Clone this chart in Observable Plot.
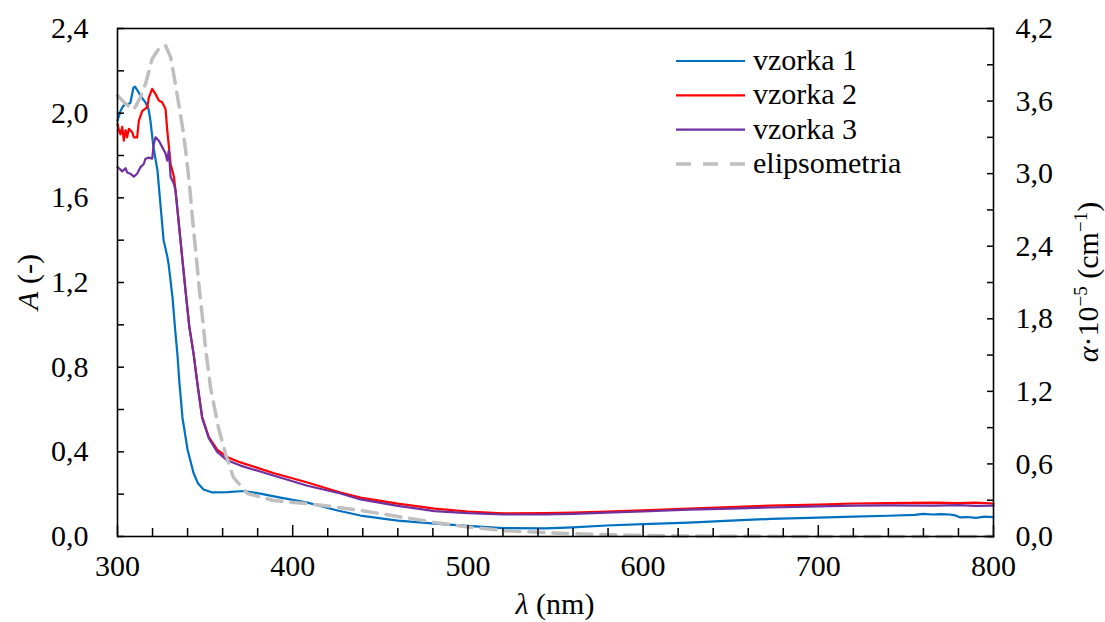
<!DOCTYPE html>
<html><head><meta charset="utf-8">
<script src="https://cdn.jsdelivr.net/npm/d3@7"></script>
<script src="https://cdn.jsdelivr.net/npm/@observablehq/plot@0.6"></script>
<style>
body{margin:0;background:#fff;}
#chart svg, #chart svg text{font-family:'Liberation Serif','Times New Roman',Tinos,'DejaVu Serif',serif !important;}
</style>
</head><body><div id="chart"></div>
<script>
// ---- data ----
const s1Lambda=[300,301.7,303,304.6,306,307.4,309.1,310,311.4,313.1,316,317.7,318.8,320.5,322.8,324.5,326.3,328.5,329.1,331.4,333.1,334.2,335.2,337.1,340,343.4,346,349.1,354.2,362.8,371.9,379.9,393,408.4,425.6,438.7,460,481,500,520,544,560,579,600,626,650,673,700,720,740,755,760,765,770,775,778,781,785,790,795,800];
const s1A=[1.965,2.01,2.03,2.046,2.04,2.05,2.12,2.125,2.107,2.083,2.05,2.02,1.965,1.84,1.73,1.57,1.40,1.32,1.29,1.13,0.96,0.86,0.74,0.56,0.41,0.30,0.25,0.222,0.208,0.21,0.215,0.205,0.184,0.16,0.123,0.099,0.075,0.061,0.05,0.04,0.038,0.043,0.052,0.058,0.066,0.075,0.083,0.089,0.094,0.098,0.102,0.107,0.104,0.106,0.104,0.1,0.09,0.092,0.088,0.094,0.092];

const s2Lambda=[300,300.8,301.7,302.7,303.6,304.6,305.5,306.5,308.4,309.3,311.2,312.2,314.1,317,317.9,319.8,321.7,323.6,325.5,327.4,328.4,330.3,332.2,333.1,335.0,336.9,338.8,341,343.5,345.6,348.3,352.1,356.9,362.6,370.2,389,408.4,427.3,438.7,460,481,500,520,544,560,579,600,626,650,673,700,720,740,766,780,790,800];
const s2A=[1.95,1.92,1.90,1.935,1.87,1.92,1.886,1.926,1.91,1.886,1.886,1.965,2.01,2.028,2.075,2.115,2.09,2.06,2.052,2.02,1.92,1.76,1.70,1.635,1.48,1.32,1.165,0.99,0.86,0.725,0.565,0.47,0.41,0.375,0.35,0.30,0.255,0.208,0.184,0.155,0.132,0.118,0.109,0.11,0.113,0.118,0.124,0.132,0.139,0.146,0.151,0.156,0.158,0.16,0.158,0.16,0.156];

const s3Lambda=[300,301.5,302.7,304.6,305.5,307.4,309.3,311.2,313.1,315,316,317.9,319.8,320.7,321.7,323.6,325.5,327.4,328.4,329.3,330.3,332.2,333.1,335.0,336.9,338.8,341,343.5,345.6,348.3,352.1,356.9,362.6,370.2,389,408.4,427.3,438.7,460,481,500,520,544,560,579,600,626,650,673,700,720,740,766,780,790,800];
const s3A=[1.745,1.735,1.725,1.74,1.72,1.714,1.70,1.714,1.745,1.76,1.785,1.79,1.785,1.855,1.886,1.87,1.84,1.81,1.776,1.824,1.70,1.666,1.635,1.477,1.32,1.162,0.99,0.858,0.72,0.56,0.465,0.40,0.36,0.335,0.288,0.24,0.203,0.175,0.145,0.12,0.11,0.104,0.104,0.107,0.113,0.118,0.127,0.132,0.137,0.142,0.146,0.147,0.146,0.148,0.145,0.146];

// ellipsometry, absorption coefficient alpha·10^-5 (cm^-1), right axis
const elLambda=[300,304.6,309.3,313.1,316,319.8,323.6,327.4,330.3,332,334.8,337.4,339.4,341.1,342.5,343.9,345.4,346.8,348.5,350.2,353.1,357.6,361.6,366.2,374.1,389,408.3,425.4,438.7,460,481,500,520,540,560,591,620,650,700,750,800];
const elAlpha=[3.646,3.577,3.528,3.632,3.743,3.95,4.032,4.06,3.963,3.828,3.588,3.357,3.133,2.902,2.679,2.464,2.249,2.034,1.811,1.563,1.232,0.901,0.686,0.488,0.356,0.298,0.271,0.242,0.215,0.166,0.116,0.079,0.049,0.035,0.023,0.011,0.005,0.002,0,0,0];

const seriesNames=["vzorka 1","vzorka 2","vzorka 3","elipsometria"];
const seriesColors=["#0070C0","#FF0000","#7030A0","#BFBFBF"];

const xTicks=[300,400,500,600,700,800];
const xMinorTicks=[320,340,360,380,420,440,460,480,520,540,560,580,620,640,660,680,720,740,760,780];
const leftTicks=[0,0.4,0.8,1.2,1.6,2.0,2.4];
const leftMinorTicks=[0.2,0.6,1.0,1.4,1.8,2.2];
const rightTicks=[0,0.6,1.2,1.8,2.4,3.0,3.6,4.2];
const rightMinorTicks=[0.3,0.9,1.5,2.1,2.7,3.3,3.9];
const A_MAX=2.4, ALPHA_MAX=4.2;

// ---- chart ----
const k=A_MAX/ALPHA_MAX;
const fmt=d=>(Math.round(d*10)/10).toFixed(1).replace(".",",");
const rows=(lam,val)=>lam.map((l,i)=>({l,v:val[i]}));
const ff="'Liberation Serif','Times New Roman',Tinos,'DejaVu Serif',serif";

const chart=Plot.plot({
  width:1105,height:622,
  marginLeft:117,marginRight:112,marginTop:28,marginBottom:86,
  style:{fontFamily:ff,fontSize:"30px",color:"#000",background:"#fff"},
  x:{domain:[300,800]},
  y:{domain:[0,A_MAX]},
  marks:[
    Plot.line(rows(s1Lambda,s1A),{x:"l",y:"v",stroke:seriesColors[0],strokeWidth:2.2}),
    Plot.line(rows(s2Lambda,s2A),{x:"l",y:"v",stroke:seriesColors[1],strokeWidth:2.2}),
    Plot.line(rows(s3Lambda,s3A),{x:"l",y:"v",stroke:seriesColors[2],strokeWidth:2.2}),
    Plot.line(rows(elLambda,elAlpha),{x:"l",y:d=>d.v*k,stroke:seriesColors[3],strokeWidth:3.5,strokeDasharray:"15,9"}),
    Plot.frame({stroke:"#000",strokeWidth:1.6}),
    // left axis
    Plot.axisY({ticks:leftTicks,tickFormat:fmt,tickSize:0,tickPadding:29,label:null}),
    Plot.axisY({ticks:[...leftTicks,...leftMinorTicks],tickSize:-7,strokeWidth:1.5,fill:"none",label:null}),
    // right axis (alpha)
    Plot.axisY(rightTicks.map(a=>a*k),{anchor:"right",tickFormat:d=>fmt(d/k),tickSize:0,tickPadding:22,label:null}),
    Plot.axisY([...rightTicks,...rightMinorTicks].map(a=>a*k),{anchor:"right",tickSize:-7,strokeWidth:1.5,fill:"none",label:null}),
    // x axis
    Plot.axisX({ticks:xTicks,tickFormat:d=>String(d),tickSize:0,tickPadding:18,label:null}),
    Plot.axisX({ticks:xMinorTicks,tickSize:-8,strokeWidth:1.5,fill:"none",label:null}),
    Plot.axisX({ticks:xTicks,tickSize:-11,strokeWidth:1.5,fill:"none",label:null})
  ]
});
chart.setAttribute("font-family",ff);
document.getElementById("chart").appendChild(chart);

// ---- axis titles and legend ----
const svg=d3.select(chart);
const tL=svg.append("text").attr("transform","translate(38,282) rotate(-90)")
  .attr("text-anchor","middle").attr("font-size",30).attr("fill","#000");
tL.append("tspan").attr("font-style","italic").text("A");
tL.append("tspan").text(" (-)");

const tX=svg.append("text").attr("x",555).attr("y",614)
  .attr("text-anchor","middle").attr("font-size",30).attr("fill","#000");
tX.append("tspan").attr("font-style","italic").text("λ");
tX.append("tspan").text(" (nm)");

const tR=svg.append("text").attr("transform","translate(1098,282) rotate(-90)")
  .attr("text-anchor","middle").attr("font-size",30).attr("fill","#000");
tR.append("tspan").attr("font-style","italic").text("α");
tR.append("tspan").text("·10");
tR.append("tspan").attr("font-size",19).attr("dy",-11).text("−5");
tR.append("tspan").attr("dy",11).text(" (cm");
tR.append("tspan").attr("font-size",19).attr("dy",-11).text("−1");
tR.append("tspan").attr("dy",11).text(")");

const lg=svg.append("g");
seriesNames.forEach((name,i)=>{
  const y=61+i*34.3;
  const isDash=i===3;
  lg.append("line").attr("x1",676).attr("x2",745).attr("y1",y).attr("y2",y)
    .attr("stroke",seriesColors[i]).attr("stroke-width",isDash?3.5:2.2)
    .attr("stroke-dasharray",isDash?"15,12":null);
  lg.append("text").attr("x",753).attr("y",y+9).attr("font-size",30)
    .attr("text-anchor","start").attr("fill","#000").text(name);
});
</script>
</body></html>
